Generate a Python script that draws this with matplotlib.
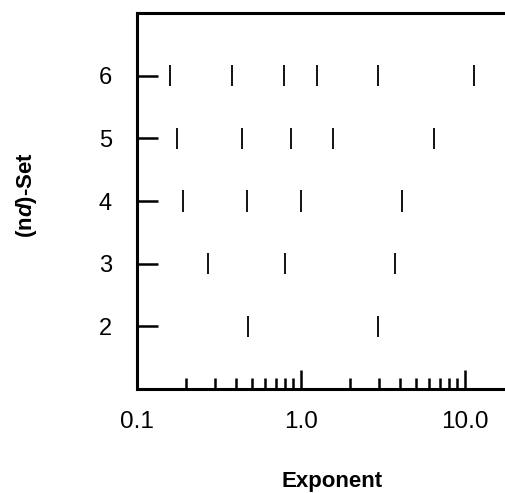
import numpy as np
import matplotlib
matplotlib.use("Agg")
import matplotlib.pyplot as plt
from matplotlib.ticker import LogLocator, FixedLocator, FixedFormatter, NullFormatter

plt.rcParams['font.family'] = ['Liberation Sans', 'DejaVu Sans']
plt.rcParams['mathtext.fontset'] = 'custom'
plt.rcParams['mathtext.bfit'] = 'Liberation Sans:italic:bold'

# exponents found for each (nd)-set
set_labels = [2, 3, 4, 5, 6]
exp_set2 = [0.478, 2.96]
exp_set3 = [0.270, 0.803, 3.74]
exp_set4 = [0.192, 0.467, 1.005, 4.13]
exp_set5 = [0.175, 0.437, 0.869, 1.56, 6.51]
exp_set6 = [0.158, 0.378, 0.792, 1.247, 2.96, 11.4]
all_sets = [exp_set2, exp_set3, exp_set4, exp_set5, exp_set6]

x_ticks = [0.1, 1.0, 10.0]
x_tick_labels = ['0.1', '1.0', '10.0']

fig = plt.figure(figsize=(5.06, 4.93), dpi=100)
ax = fig.add_axes([137 / 506, 104 / 493, 369 / 506, 376 / 493])

half = 0.17
for s, xs in zip(set_labels, all_sets):
    ax.vlines(xs, s - half, s + half, colors='black', linewidth=1.3)

ax.set_xscale('log')
ax.set_xlim(0.1, 17.8)
ax.set_ylim(1, 7)

ax.xaxis.set_major_locator(FixedLocator(x_ticks))
ax.xaxis.set_major_formatter(FixedFormatter(x_tick_labels))
ax.xaxis.set_minor_locator(LogLocator(base=10, subs=np.arange(2, 10)))
ax.xaxis.set_minor_formatter(NullFormatter())
ax.set_yticks(set_labels)

ax.tick_params(axis='x', which='major', direction='in', length=14, width=1.8,
               pad=16, labelsize=17.5, top=False)
ax.tick_params(axis='x', which='minor', direction='in', length=8, width=1.8, top=False)
ax.tick_params(axis='y', which='major', direction='in', length=15, width=1.8,
               pad=18, labelsize=17, right=False)

for side in ['left', 'bottom', 'top']:
    ax.spines[side].set_linewidth(2.2)
ax.spines['right'].set_visible(False)

ax.set_xlabel('Exponent', fontsize=16, fontweight='bold')
ax.xaxis.set_label_coords((332 - 137) / 369, -(471 - 389) / 376)
ax.set_ylabel(r'(n$\mathbfit{d}$)-Set', fontsize=16, fontweight='bold')
ax.yaxis.set_label_coords(-(137 - 39) / 369, (389 - 195) / 376)

fig.savefig('out.png', dpi=100)
